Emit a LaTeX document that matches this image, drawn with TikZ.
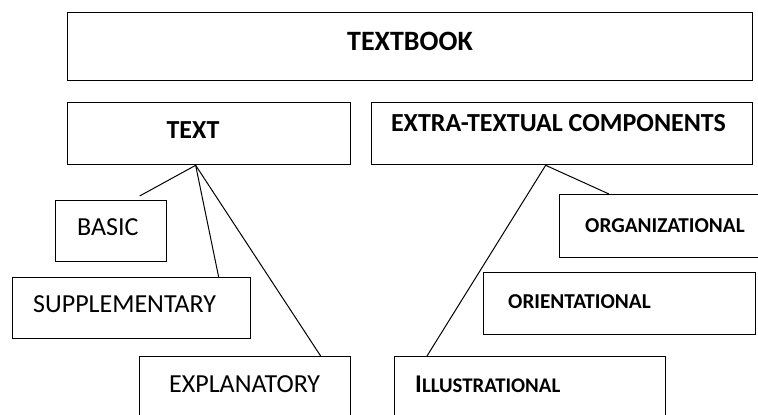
\documentclass[tikz,border=0pt]{standalone}
\usepackage{fontspec}
\setmainfont{Carlito}
\usetikzlibrary{calc}
\begin{document}
\begin{tikzpicture}[x=1pt,y=-1pt,
  box/.style={draw=black, line width=1.3pt, rectangle, inner sep=0pt, anchor=north west},
  link/.style={draw=black, line width=1pt},
  lab/.style={anchor=base west, inner sep=0pt},
  bigb/.style={font=\fontsize{28}{31}\selectfont\bfseries},
  midb/.style={font=\fontsize{26}{29}\selectfont\bfseries},
  midr/.style={font=\fontsize{26}{29}\selectfont},
  smb/.style={font=\fontsize{21.2}{24}\selectfont\bfseries}]
\clip (0,0) rectangle (758,415);
% boxes
\node[box, minimum width=685pt, minimum height=68pt] (textbook) at (67,12) {};
\node[box, minimum width=283pt, minimum height=62pt] (text) at (67,102) {};
\node[box, minimum width=381pt, minimum height=62pt] (extra) at (371,102) {};
\node[box, minimum width=111pt, minimum height=61pt] (basic) at (55,200) {};
\node[box, minimum width=238pt, minimum height=61pt] (supp) at (12,277) {};
\node[box, minimum width=211pt, minimum height=80pt] (expl) at (139,356) {};
\node[box, minimum width=220pt, minimum height=63pt] (org) at (559,194) {};
\node[box, minimum width=272pt, minimum height=62pt] (ori) at (483,272) {};
\node[box, minimum width=271pt, minimum height=80pt] (ill) at (394,356) {};
% labels
\node[anchor=base, inner sep=0pt, bigb] (ltextbook) at (410,50) {TEXTBOOK};
\node[anchor=base, inner sep=0pt, midb] (ltext) at (193,138) {TEXT};
\node[anchor=base, inner sep=0pt, midb] (lextra) at (558.5,131) {EXTRA-TEXTUAL COMPONENTS};
\node[lab, midr] (lbasic) at (77,235) {BASIC};
\node[lab, midr] (lsupp) at (33,312) {SUPPLEMENTARY};
\node[lab, midr] (lexpl) at (169,392) {EXPLANATORY};
\node[lab, smb] (lorg) at (585,232) {ORGANIZATIONAL};
\node[lab, smb] (lori) at (508,308) {ORIENTATIONAL};
\node[lab, font=\bfseries] (lill) at (415,392) {{\fontsize{25.5}{28}\selectfont I}{\fontsize{20.8}{24}\selectfont LLUSTRATIONAL}};
% connectors
\coordinate (tx) at ($(text.south)+(-13.5,0)$);
\coordinate (ex) at ($(extra.south)+(-16.5,0)$);
\coordinate (bend) at ($(basic.north)+(28.5,-4)$);
\draw[link] (tx) -- (bend);
\draw[link] (tx) -- ($(supp.north)+(87,0)$);
\draw[link] (tx) -- ($(expl.north)+(75.5,0)$);
\draw[link] (ex) -- ($(org.north west)+(50,0)$);
\draw[link] (ex) -- ($(ill.north west)+(33,0)$);
\end{tikzpicture}
\end{document}
